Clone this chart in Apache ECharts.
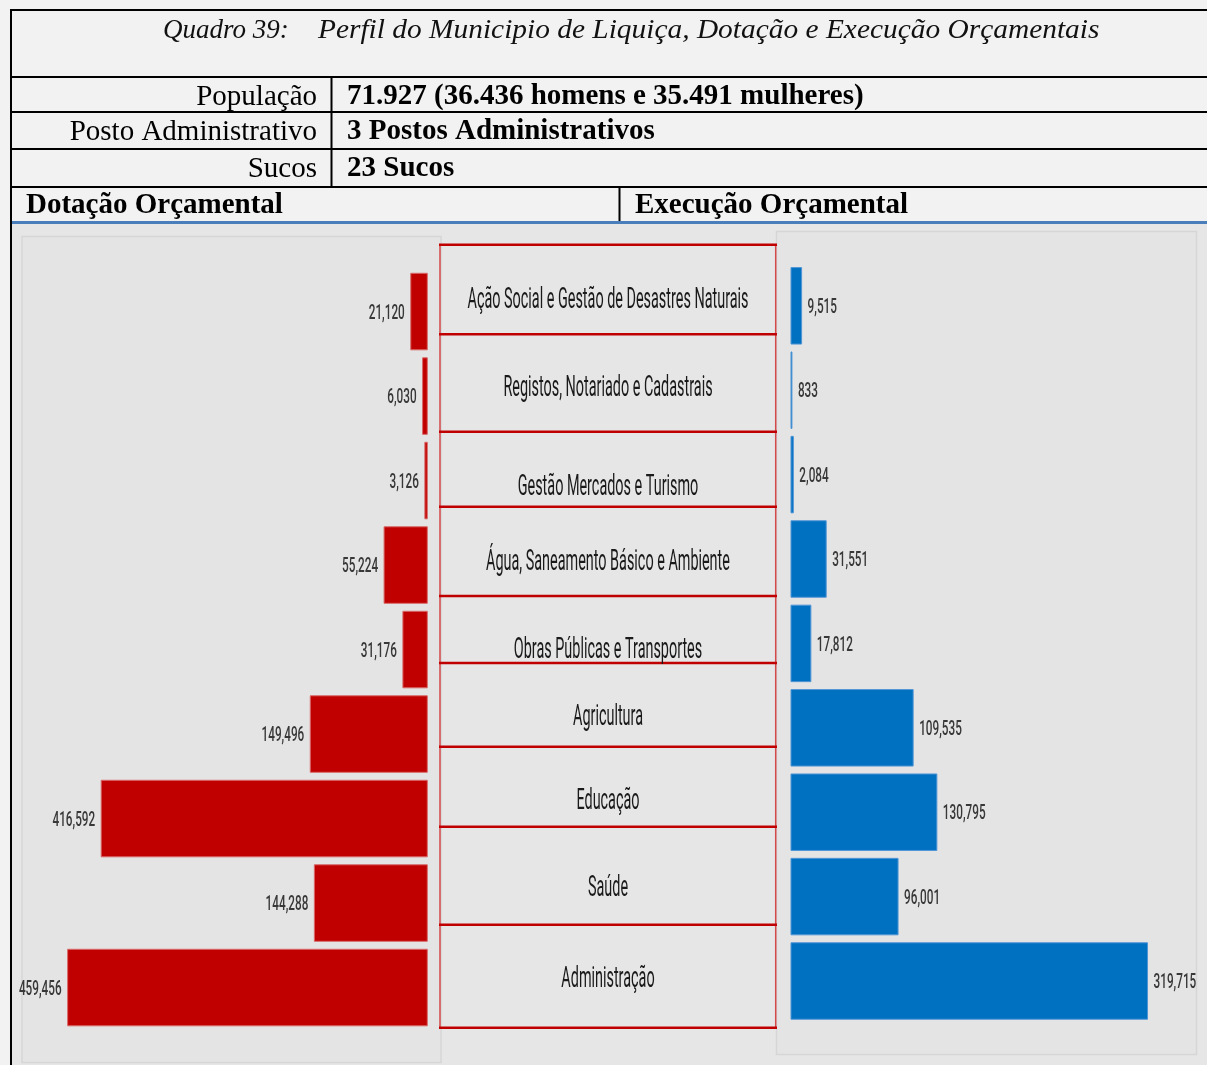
<!DOCTYPE html>
<html>
<head>
<meta charset="utf-8">
<script src="https://cdn.jsdelivr.net/npm/echarts@6/dist/echarts.min.js"></script>
<style>
html,body{margin:0;padding:0;background:#f2f2f2;}
#chart{width:1207px;height:1065px;}
</style>
</head>
<body>
<div id="chart"></div>
<script>
// ---------- DATA ----------
const titleLeft = 'Quadro 39:';
const titleRight = 'Perfil do Municipio de Liquiça, Dotação e Execução Orçamentais';
const infoLabels = ['População', 'Posto Administrativo', 'Sucos'];
const infoValues = ['71.927 (36.436 homens e 35.491 mulheres)', '3 Postos Administrativos', '23 Sucos'];
const panelTitles = ['Dotação Orçamental', 'Execução Orçamental'];
const categories = [
  'Ação Social e Gestão de Desastres Naturais',
  'Registos, Notariado e Cadastrais',
  'Gestão Mercados e Turismo',
  'Água, Saneamento Básico e Ambiente',
  'Obras Públicas e Transportes',
  'Agricultura',
  'Educação',
  'Saúde',
  'Administração'
];
const dotacao = [21120, 6030, 3126, 55224, 31176, 149496, 416592, 144288, 459456];
const execucao = [9515, 833, 2084, 31551, 17812, 109535, 130795, 96001, 319715];

// ---------- LAYOUT ----------
const W = 1207, H = 1065;
const serif = '"Liberation Serif", "Times New Roman", serif';
const sans = 'Roboto, "Noto Sans", sans-serif';
const RED = '#c00000', BLUE = '#0070c0';

function fmt(v) { return v.toLocaleString('en-US'); }

function barRenderer(side) {
  return function (params, api) {
    const v = api.value(0), c = api.value(1);
    const p0 = api.coord([0, c]);
    const p1 = api.coord([v, c]);
    const band = api.size([0, 1])[1];
    const h = band * 0.906;
    const x = Math.min(p0[0], p1[0]);
    const w = Math.abs(p1[0] - p0[0]);
    const left = side === 'left';
    return {
      type: 'group',
      children: [
        {
          type: 'rect',
          shape: { x: x, y: p0[1] - h / 2, width: w, height: h },
          style: { fill: left ? RED : BLUE, stroke: left ? '#d86a6a' : '#4f95d6', lineWidth: 1 }
        },
        {
          type: 'text',
          x: left ? x - 6 : x + w + 6,
          y: p0[1] + 2,
          scaleX: 0.56,
          style: {
            text: fmt(v),
            font: '500 21px ' + sans,
            fill: '#383838',
            align: left ? 'right' : 'left',
            verticalAlign: 'middle'
          }
        }
      ]
    };
  };
}

// decorative layout elements
const g = [];
// chart area background
g.push({ type: 'rect', shape: { x: 12, y: 223, width: W - 12, height: H - 223 }, style: { fill: '#e6e6e6' }, z: -10 });
// inner panels
g.push({ type: 'rect', shape: { x: 22, y: 236.5, width: 419, height: 826 }, style: { fill: '#e4e4e4', stroke: '#d6d6d6', lineWidth: 1.5 }, z: -9 });
g.push({ type: 'rect', shape: { x: 776.5, y: 231.5, width: 420, height: 823 }, style: { fill: '#e4e4e4', stroke: '#d6d6d6', lineWidth: 1.5 }, z: -9 });

// header table lines
function hline(y, x1, x2, color, lw) {
  g.push({ type: 'line', shape: { x1: x1, y1: y, x2: x2, y2: y }, style: { stroke: color, lineWidth: lw }, z: 5 });
}
function vline(x, y1, y2, color, lw) {
  g.push({ type: 'line', shape: { x1: x, y1: y1, x2: x, y2: y2 }, style: { stroke: color, lineWidth: lw }, z: 5 });
}
hline(10, 11, W, '#000', 2);
vline(11, 9, H, '#000', 2);
[77, 112, 149, 187].forEach(y => hline(y, 11, W, '#000', 2));
vline(331.5, 77, 187, '#000', 2);
vline(619.5, 187, 222, '#000', 2);
hline(222.5, 12, W, '#4a7ebb', 3);

// header texts
g.push({ type: 'text', x: 163, y: 31, style: { text: titleLeft, font: 'italic 27px ' + serif, fill: '#111', align: 'left', verticalAlign: 'middle' }, z: 6 });
g.push({ type: 'text', x: 318, y: 31, scaleX: 1.05, style: { text: titleRight, font: 'italic 28px ' + serif, fill: '#111', align: 'left', verticalAlign: 'middle' }, z: 6 });
const rowMid = [97, 132, 169];
infoLabels.forEach((t, i) => {
  g.push({ type: 'text', x: 317, y: rowMid[i], style: { text: t, font: '29px ' + serif, fill: '#000', align: 'right', verticalAlign: 'middle' }, z: 6 });
  g.push({ type: 'text', x: 347, y: rowMid[i], style: { text: infoValues[i], font: 'bold 29px ' + serif, fill: '#000', align: 'left', verticalAlign: 'middle' }, z: 6 });
});
g.push({ type: 'text', x: 26, y: 206, style: { text: panelTitles[0], font: 'bold 29px ' + serif, fill: '#000', align: 'left', verticalAlign: 'middle' }, z: 6 });
g.push({ type: 'text', x: 635, y: 206, style: { text: panelTitles[1], font: 'bold 29px ' + serif, fill: '#000', align: 'left', verticalAlign: 'middle' }, z: 6 });

// middle category boxes
const boxEdges = [244.7, 334.3, 431.7, 506.7, 596, 663, 746.7, 826.7, 924.7, 1027.7];
const labelMid = [300, 388, 487, 562, 650, 717, 801, 888, 979];
vline(440, boxEdges[0], boxEdges[boxEdges.length - 1], '#d24a4a', 1.5);
vline(775.7, boxEdges[0], boxEdges[boxEdges.length - 1], '#d24a4a', 1.5);
boxEdges.forEach(y => hline(y, 439, 777, RED, 2.5));
categories.forEach((c, i) => {
  g.push({ type: 'text', x: 608, y: labelMid[i], scaleX: 0.48,
    style: { text: c, font: '30px ' + sans, fill: '#1a1a1a', align: 'center', verticalAlign: 'middle' }, z: 6 });
});

const chart = echarts.init(document.getElementById('chart'), null, { renderer: 'canvas' });
chart.setOption({
  backgroundColor: 'transparent',
  animation: false,
  grid: [
    { left: 35.9, width: 391.4, top: 269.3, height: 760.5 },
    { left: 791, width: 390.3, top: 263.6, height: 759.6 }
  ],
  xAxis: [
    { gridIndex: 0, type: 'value', min: 0, max: 500000, inverse: true, show: false },
    { gridIndex: 1, type: 'value', min: 0, max: 350000, show: false }
  ],
  yAxis: [
    { gridIndex: 0, type: 'category', data: categories, inverse: true, show: false },
    { gridIndex: 1, type: 'category', data: categories, inverse: true, show: false }
  ],
  graphic: { elements: g },
  series: [
    {
      name: panelTitles[0], type: 'custom', xAxisIndex: 0, yAxisIndex: 0,
      renderItem: barRenderer('left'),
      encode: { x: 0, y: 1 },
      data: dotacao.map((v, i) => [v, i])
    },
    {
      name: panelTitles[1], type: 'custom', xAxisIndex: 1, yAxisIndex: 1,
      renderItem: barRenderer('right'),
      encode: { x: 0, y: 1 },
      data: execucao.map((v, i) => [v, i])
    }
  ]
});
</script>
</body>
</html>
